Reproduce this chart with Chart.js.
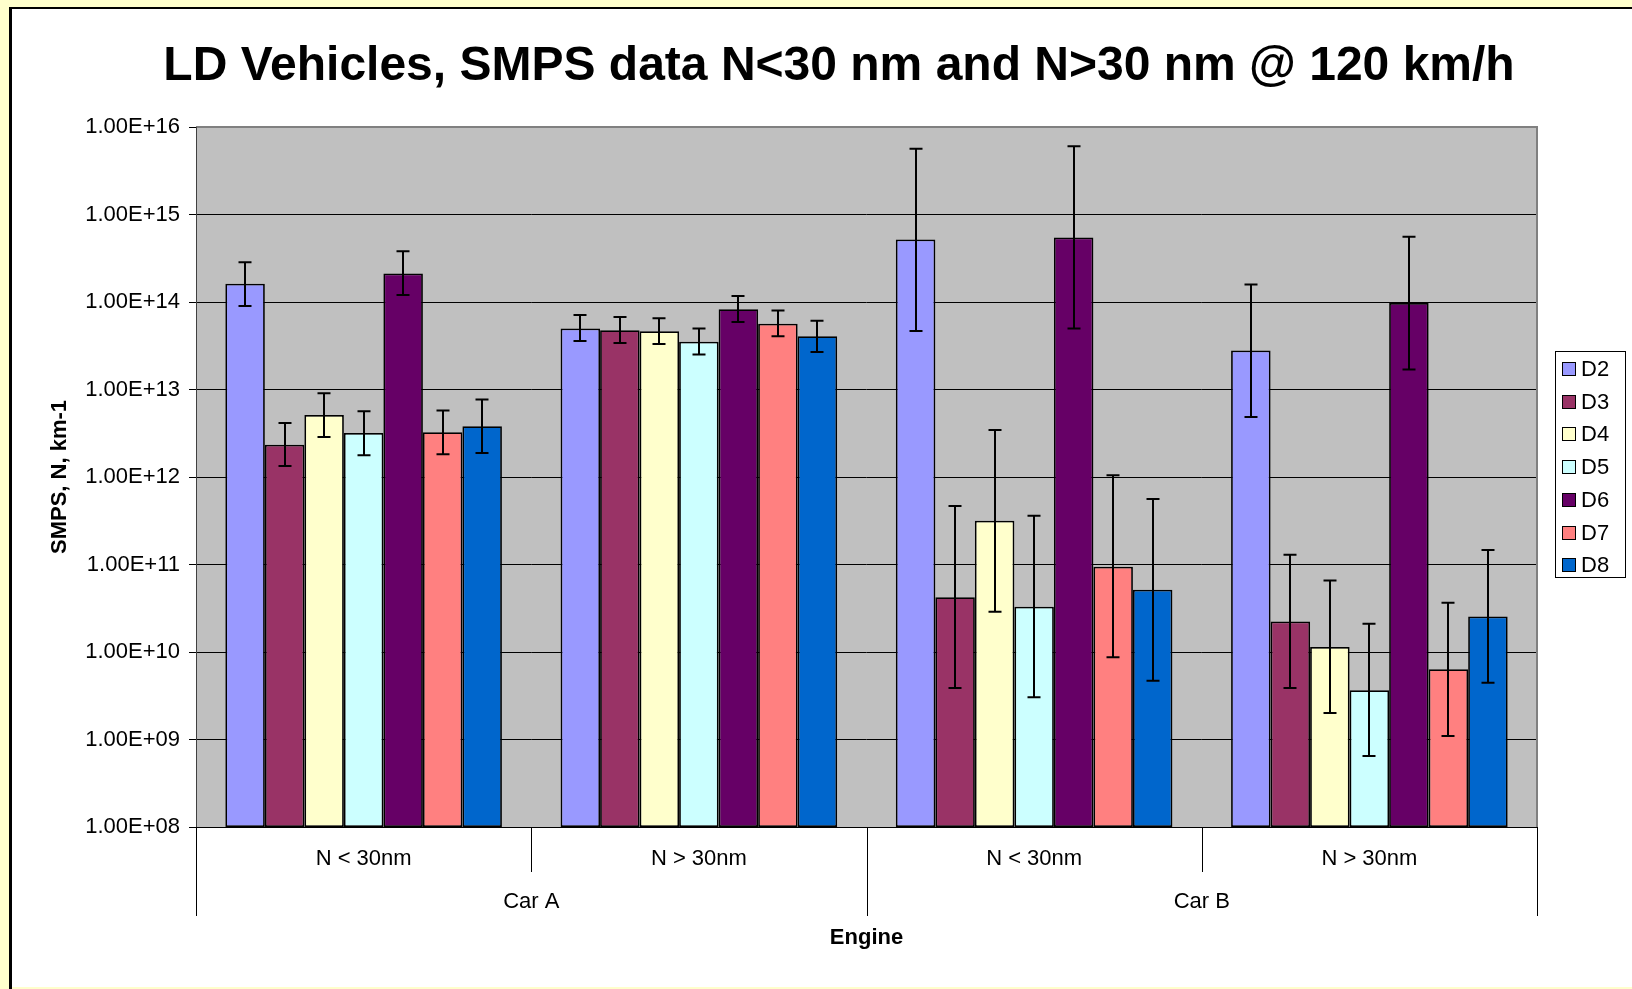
<!DOCTYPE html>
<html>
<head>
<meta charset="utf-8">
<title>LD Vehicles, SMPS data</title>
<script src="https://cdn.jsdelivr.net/npm/chart.js@4.4.1/dist/chart.umd.min.js"></script>
<style>
  html, body { margin: 0; padding: 0; background: #FFFFCC; overflow: hidden; }
  canvas { display: block; }
</style>
</head>
<body>
<canvas id="chart" width="1632" height="989" style="width:1632px;height:989px"></canvas>
<script>
// ---- data ----
const chartTitle = 'LD Vehicles, SMPS data N<30 nm and N>30 nm @ 120 km/h';
const categories = ['N < 30nm', 'N > 30nm', 'N < 30nm', 'N > 30nm'];
const cars = ['Car A', 'Car B'];
const categoriesPerCar = 2;
const xAxisTitle = 'Engine';
const yAxisTitle = 'SMPS, N, km-1';

const seriesNames = ['D2', 'D3', 'D4', 'D5', 'D6', 'D7', 'D8'];

// mean values (N per km)
const D2 = [1.62e14, 4.97e13, 5.18e14, 2.79e13];
const D3 = [2.34e12, 4.75e13, 4.22e10, 2.23e10];
const D4 = [5.12e12, 4.63e13, 3.17e11, 1.14e10];
const D5 = [3.18e12, 3.52e13, 3.30e10, 3.66e9];
const D6 = [2.12e14, 8.26e13, 5.46e14, 9.73e13];
const D7 = [3.24e12, 5.66e13, 9.44e10, 6.34e9];
const D8 = [3.80e12, 4.06e13, 5.15e10, 2.54e10];

// upper ends of the error bars
const D2_hi = [2.84e14, 7.10e13, 5.63e15, 1.59e14];
const D3_hi = [4.14e12, 6.74e13, 4.67e11, 1.29e11];
const D4_hi = [9.06e12, 6.52e13, 3.44e12, 6.56e10];
const D5_hi = [5.64e12, 4.97e13, 3.61e11, 2.10e10];
const D6_hi = [3.80e14, 1.17e14, 6.04e15, 5.58e14];
const D7_hi = [5.74e12, 7.98e13, 1.05e12, 3.65e10];
const D8_hi = [7.67e12, 6.12e13, 5.60e11, 1.46e11];

// lower ends of the error bars
const D2_lo = [9.00e13, 3.58e13, 4.66e13, 4.86e12];
const D3_lo = [1.34e12, 3.40e13, 3.88e9, 3.89e9];
const D4_lo = [2.87e12, 3.31e13, 2.89e10, 2.01e9];
const D5_lo = [1.77e12, 2.52e13, 3.03e9, 6.47e8];
const D6_lo = [1.20e14, 5.90e13, 4.97e13, 1.69e13];
const D7_lo = [1.82e12, 4.06e13, 8.69e9, 1.10e9];
const D8_lo = [1.88e12, 2.68e13, 4.70e9, 4.46e9];

const yTickValues = [1e8, 1e9, 1e10, 1e11, 1e12, 1e13, 1e14, 1e15, 1e16];
const yTickLabels = ['1.00E+08', '1.00E+09', '1.00E+10', '1.00E+11', '1.00E+12',
                     '1.00E+13', '1.00E+14', '1.00E+15', '1.00E+16'];

// ---- styling ----
const seriesColors = ['#9999FF', '#993366', '#FFFFCC', '#CCFFFF', '#660066', '#FF8080', '#0066CC'];
const seriesValues = [D2, D3, D4, D5, D6, D7, D8];
const seriesHigh = [D2_hi, D3_hi, D4_hi, D5_hi, D6_hi, D7_hi, D8_hi];
const seriesLow = [D2_lo, D3_lo, D4_lo, D5_lo, D6_lo, D7_lo, D8_lo];

const FONT = "'Liberation Sans', Arial, Helvetica, sans-serif";
Chart.defaults.font.family = FONT;
Chart.defaults.font.size = 22;
Chart.defaults.color = '#000000';

const datasets = seriesNames.map((name, i) => ({
  label: name,
  data: seriesValues[i],
  errHigh: seriesHigh[i],
  errLow: seriesLow[i],
  backgroundColor: seriesColors[i],
  borderColor: '#000000',
  borderWidth: 1.75,
  borderSkipped: false,
  categoryPercentage: 0.825,
  barPercentage: 1.0
}));

// page frame and grey plot background
const backdrop = {
  id: 'backdrop',
  beforeDraw(chart) {
    const { ctx, width, height, chartArea: a } = chart;
    ctx.save();
    ctx.fillStyle = '#FFFFCC';
    ctx.fillRect(0, 0, width, height);
    ctx.fillStyle = '#FFFFFF';
    ctx.fillRect(12, 9, width - 12, height - 11);
    ctx.fillStyle = '#000000';
    ctx.fillRect(9, 7, 3, height - 7);
    ctx.fillRect(9, 7, width - 9, 2);
    ctx.fillStyle = '#C0C0C0';
    ctx.fillRect(a.left, a.top, a.right - a.left, a.bottom - a.top);
    ctx.restore();
  }
};

// error bars from the errHigh / errLow arrays
const errorBars = {
  id: 'errorBars',
  afterDatasetsDraw(chart) {
    const { ctx } = chart;
    const y = chart.scales.y;
    ctx.save();
    ctx.strokeStyle = '#000000';
    ctx.lineWidth = 2;
    chart.data.datasets.forEach((ds, di) => {
      const meta = chart.getDatasetMeta(di);
      meta.data.forEach((bar, i) => {
        const x = Math.round(bar.x);
        const yh = y.getPixelForValue(ds.errHigh[i]);
        const yl = y.getPixelForValue(ds.errLow[i]);
        const cap = 6.5;
        ctx.beginPath();
        ctx.moveTo(x, yh); ctx.lineTo(x, yl);
        ctx.moveTo(x - cap, yh); ctx.lineTo(x + cap, yh);
        ctx.moveTo(x - cap, yl); ctx.lineTo(x + cap, yl);
        ctx.stroke();
      });
    });
    ctx.restore();
  }
};

// plot border, title, grouped category axis and legend
const decorations = {
  id: 'decorations',
  afterDraw(chart) {
    const { ctx, chartArea: a } = chart;
    const xs = chart.scales.x;
    ctx.save();

    // plot border (top and right)
    ctx.strokeStyle = '#808080';
    ctx.lineWidth = 2;
    ctx.beginPath();
    ctx.moveTo(a.left, a.top);
    ctx.lineTo(a.right, a.top);
    ctx.lineTo(a.right, a.bottom);
    ctx.stroke();
    ctx.strokeStyle = '#404040';
    ctx.lineWidth = 1;
    ctx.beginPath();
    ctx.moveTo(a.left + 0.5, a.top);
    ctx.lineTo(a.left + 0.5, a.bottom);
    ctx.stroke();

    // title
    ctx.fillStyle = '#000000';
    ctx.font = 'bold 48px ' + FONT;
    ctx.textAlign = 'center';
    ctx.textBaseline = 'middle';
    ctx.fillText(chartTitle, 839, 67);

    // category dividers and car labels
    const n = categories.length;
    const step = (xs.getPixelForValue(1) - xs.getPixelForValue(0));
    ctx.strokeStyle = '#000000';
    ctx.lineWidth = 1;
    for (let i = 0; i <= n; i++) {
      const bx = Math.round(xs.getPixelForValue(i) - step / 2) + 0.5;
      const long = i % categoriesPerCar === 0;
      ctx.beginPath();
      ctx.moveTo(bx, a.bottom);
      ctx.lineTo(bx, a.bottom + (long ? 89 : 45));
      ctx.stroke();
    }
    ctx.font = '22px ' + FONT;
    cars.forEach((car, c) => {
      const first = xs.getPixelForValue(c * categoriesPerCar);
      const last = xs.getPixelForValue(c * categoriesPerCar + categoriesPerCar - 1);
      ctx.fillText(car, (first + last) / 2, a.bottom + 75);
    });

    // legend
    const lx = 1555.5, ly = 351.5, lw = 70, lh = 226;
    ctx.fillStyle = '#FFFFFF';
    ctx.fillRect(lx, ly, lw, lh);
    ctx.strokeStyle = '#000000';
    ctx.strokeRect(lx, ly, lw, lh);
    ctx.textAlign = 'left';
    chart.data.datasets.forEach((ds, i) => {
      const cy = 369 + i * 32.7;
      ctx.fillStyle = ds.backgroundColor;
      ctx.fillRect(1562, Math.round(cy - 7), 14, 14);
      ctx.strokeRect(1562.5, Math.round(cy - 7) + 0.5, 13, 13);
      ctx.fillStyle = '#000000';
      ctx.fillText(ds.label, 1581, cy + 1);
    });
    ctx.restore();
  }
};

new Chart(document.getElementById('chart'), {
  type: 'bar',
  data: { labels: categories, datasets },
  plugins: [backdrop, errorBars, decorations],
  options: {
    responsive: false,
    animation: false,
    layout: { padding: { left: 0, right: 95, top: 127, bottom: 0 } },
    plugins: {
      legend: { display: false },
      title: { display: false },
      tooltip: { enabled: false }
    },
    scales: {
      x: {
        offset: true,
        grid: { display: false, drawTicks: false },
        border: { display: true, color: '#000000', width: 1 },
        ticks: { padding: 18.5, font: { size: 22 }, color: '#000000', maxRotation: 0 },
        title: { display: true, text: xAxisTitle, font: { size: 22, weight: 'bold' },
                 padding: { top: 0, bottom: 37.8 } },
        afterFit(scale) { scale.height = 162; }
      },
      y: {
        type: 'logarithmic',
        min: 1e8,
        max: 1e16,
        grid: { color: '#000000', lineWidth: 1, tickLength: 7, drawTicks: true },
        border: { display: false },
        ticks: {
          padding: 9,
          autoSkip: false,
          font: { size: 22 },
          color: '#000000',
          callback: (value, index) => yTickLabels[index]
        },
        title: { display: true, text: yAxisTitle, font: { size: 22, weight: 'bold' },
                 padding: { top: 46.8, bottom: 0 } },
        afterBuildTicks(scale) { scale.ticks = yTickValues.map(v => ({ value: v })); },
        afterFit(scale) { scale.width = 196; }
      }
    }
  }
});
</script>
</body>
</html>
